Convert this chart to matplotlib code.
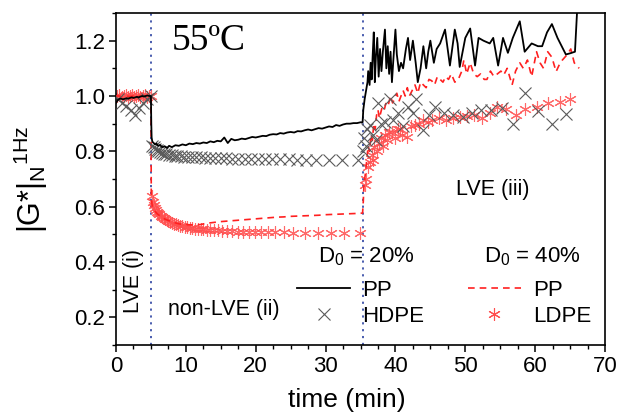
import matplotlib
matplotlib.use("Agg")
import matplotlib.pyplot as plt
from matplotlib.lines import Line2D

plt.rcParams['font.family'] = ['Liberation Sans', 'DejaVu Sans']
plt.rcParams['mathtext.fontset'] = 'custom'
plt.rcParams['mathtext.rm'] = 'Liberation Sans'
plt.rcParams['mathtext.it'] = 'Liberation Sans'
plt.rcParams['mathtext.bf'] = 'Liberation Sans:bold'

# ---------------- data ----------------
# PP, D0 = 20 %  (black solid line)
pp20_t = [0, 0.25, 0.5, 0.75, 1.0, 1.25, 1.5, 1.75, 2.0, 2.25, 2.5, 2.75, 3.0, 3.25, 3.5, 3.75, 4.0, 4.25, 4.5, 4.75, 5.0,
          5.05, 5.1, 5.2, 5.4, 5.6, 5.8, 6.0, 6.3, 6.6, 7.0, 7.3, 7.6, 8.0, 8.5, 9.0, 9.5, 10.0, 10.5, 11.0, 11.5, 12.0,
          12.5, 13.0, 13.5, 14.0, 14.5, 15.0, 15.5, 16.0, 16.5, 17.0, 17.5, 18.0, 18.5, 19.0, 19.5, 20.0, 20.5, 21.0,
          21.5, 22.0, 22.5, 23.0, 23.5, 24.0, 24.5, 25.0, 25.5, 26.0, 26.5, 27.0, 27.5, 28.0, 28.5, 29.0, 29.5, 30.0,
          30.5, 31.0, 31.5, 32.0, 32.5, 33.0, 33.5, 34.0, 34.5, 35.0, 35.3,
          35.4, 35.6, 35.8, 36.0, 36.1, 36.3, 36.45, 36.6, 36.75, 36.9, 37.05, 37.2, 37.4, 37.6, 37.8, 38.0, 38.2, 38.5,
          38.7, 38.9, 39.1, 39.3, 39.5, 39.7, 40.0, 40.2, 40.5, 40.8, 41.1, 41.5, 41.8, 42.1, 42.5, 42.9, 43.2, 43.6,
          44.0, 44.4, 44.7, 45.0, 45.5, 45.9, 46.4, 47.1, 47.8, 48.5, 48.9, 49.2, 50.0, 50.7, 51.4, 51.9, 52.6, 53.5,
          54.0, 54.7, 55.4, 56.1, 56.8, 57.8, 58.5, 59.5, 60.4, 61.0, 61.7, 62.4, 63.2, 63.6, 64.4, 65.1, 65.7, 66.2]
pp20_v = [0.975, 0.985, 0.99, 0.99, 0.988, 0.99, 0.992, 0.99, 0.993, 0.995, 0.993, 0.995, 0.997, 0.995, 0.998, 1.0, 0.998,
          1.0, 1.002, 1.0, 1.0,
          0.90, 0.85, 0.835, 0.83, 0.825, 0.828, 0.82, 0.823, 0.815, 0.818, 0.812, 0.82, 0.815, 0.822, 0.82, 0.825,
          0.822, 0.828, 0.826, 0.83, 0.828, 0.832, 0.83, 0.836, 0.833, 0.838, 0.836, 0.85, 0.83, 0.845, 0.84, 0.842,
          0.846, 0.844, 0.848, 0.852, 0.85, 0.853, 0.856, 0.855, 0.86, 0.862, 0.861, 0.866, 0.864, 0.868, 0.87, 0.868,
          0.873, 0.872, 0.876, 0.879, 0.876, 0.88, 0.884, 0.882, 0.886, 0.89, 0.888, 0.895, 0.892, 0.897, 0.90, 0.90,
          0.902, 0.902, 0.905, 0.905,
          0.95, 0.99, 1.02, 1.05, 1.09, 1.04, 1.12, 1.06, 1.15, 1.23, 1.05, 1.14, 1.21, 1.07, 1.17, 1.09, 1.16, 1.24,
          1.10, 1.18, 1.08, 1.16, 1.05, 1.13, 1.24, 1.15, 1.09, 1.12, 1.10, 1.17, 1.21, 1.13, 1.20, 1.12, 1.05, 1.10,
          1.18, 1.10, 1.16, 1.20, 1.12, 1.17, 1.19, 1.24, 1.11, 1.24, 1.19, 1.105, 1.21, 1.244, 1.11, 1.21, 1.20, 1.19,
          1.21, 1.11, 1.21, 1.156, 1.21, 1.27, 1.16, 1.19, 1.18, 1.18, 1.23, 1.26, 1.21, 1.19, 1.15, 1.155, 1.16, 1.40]

# HDPE, D0 = 20 %  (grey crosses)
hdpe_t = [0.3, 0.9, 1.5, 2.1, 2.7, 3.3, 3.9, 4.5, 5.0,
          5.2, 5.4, 5.6, 5.8, 6.0, 6.3, 6.6, 6.9, 7.2, 7.6, 8.0, 8.4, 8.8, 9.3, 9.8, 10.3, 10.9, 11.5, 12.1, 12.8,
          13.5, 14.2, 15.0, 15.8, 16.6, 17.5, 18.4, 19.3, 20.3, 21.3, 22.4, 23.5, 24.7, 25.9, 27.2, 28.6, 30.5,
          32.4, 34.7,
          35.3, 35.5, 35.8, 36.0, 36.4, 36.8, 37.2, 37.5, 37.9, 38.5, 39.2, 39.7, 40.3, 41.1, 41.8, 42.5, 43.0,
          44.0, 44.8, 45.7, 46.9, 48.3, 49.7, 51.0, 52.3, 53.7, 55.2, 56.8, 58.5, 60.4, 62.4, 64.4]
hdpe_v = [0.99, 0.975, 0.965, 0.95, 0.93, 0.955, 0.975, 0.99, 1.0,
          0.82, 0.815, 0.81, 0.805, 0.80, 0.797, 0.795, 0.79, 0.79, 0.787, 0.785, 0.784, 0.783, 0.782, 0.78, 0.78,
          0.779, 0.779, 0.778, 0.777, 0.776, 0.776, 0.775, 0.775, 0.774, 0.774, 0.773, 0.773, 0.773, 0.772, 0.772,
          0.771, 0.771, 0.77, 0.77, 0.77, 0.77, 0.769, 0.768,
          0.80, 0.85, 0.82, 0.88, 0.895, 0.86, 0.84, 0.975, 0.90, 0.907, 0.99, 0.913, 0.94, 0.89, 0.96, 0.94, 0.99,
          0.878, 0.93, 0.96, 0.94, 0.93, 0.925, 0.94, 0.95, 0.95, 0.955, 0.90, 1.01, 0.945, 0.90, 0.935]

# PP, D0 = 40 %  (red dashed line)
pp40_t = [0, 0.5, 1.0, 1.5, 2.0, 2.5, 3.0, 3.5, 4.0, 4.5, 5.0,
          5.05, 5.2, 5.5, 6.0, 7.0, 8.0, 9.0, 10.0, 11.0, 12.0, 13.0, 14.0, 15.0, 16.0, 17.0, 18.0, 19.0, 20.0,
          21.0, 22.0, 23.0, 24.0, 25.0, 26.0, 27.0, 28.0, 29.0, 30.0, 31.0, 32.0, 33.0, 34.0, 35.0, 35.3,
          35.4, 35.5, 35.7, 35.9, 36.1, 36.3, 36.5, 36.7, 36.9, 37.1, 37.3, 37.5, 37.7, 37.9, 38.1, 38.4, 38.7,
          39.0, 39.3, 39.6, 39.9, 40.2, 40.5, 40.8, 41.1, 41.4, 41.7, 42.0, 42.4, 42.8, 43.2, 43.6, 44.0, 44.4,
          44.8, 45.2, 45.6, 46.0, 46.4, 46.8, 47.2, 47.6, 48.0, 48.5, 49.0, 49.5, 49.8, 50.2, 50.7, 51.2, 51.7,
          52.2, 52.7, 53.1, 53.6, 54.1, 54.6, 55.1, 55.5, 56.0, 56.7, 57.2, 57.8, 58.3, 58.9, 59.5, 60.2, 60.7,
          61.2, 61.8, 62.4, 63.0, 63.4, 63.9, 64.6, 65.1, 65.6, 66.3]
pp40_v = [1.0, 1.0, 0.995, 1.0, 0.998, 1.0, 1.002, 0.998, 1.0, 1.0, 1.0,
          0.63, 0.60, 0.585, 0.572, 0.555, 0.545, 0.538, 0.535, 0.534, 0.535, 0.54, 0.543, 0.546, 0.548, 0.55,
          0.552, 0.554, 0.556, 0.558, 0.56, 0.562, 0.563, 0.565, 0.566, 0.567, 0.568, 0.569, 0.571, 0.572, 0.573,
          0.574, 0.575, 0.576, 0.577,
          0.62, 0.68, 0.72, 0.77, 0.82, 0.80, 0.86, 0.84, 0.90, 0.88, 0.93, 0.95, 0.92, 0.94, 0.96, 0.95, 0.98,
          0.97, 1.00, 0.975, 0.99, 1.01, 0.98, 1.00, 1.02, 1.00, 1.03, 1.00, 1.02, 1.04, 1.01, 1.05, 1.04, 1.03,
          1.06, 1.055, 1.04, 1.07, 1.06, 1.05, 1.07, 1.06, 1.08, 1.05, 1.06, 1.09, 1.13, 1.08, 1.12, 1.08, 1.07,
          1.08, 1.06, 1.06, 1.09, 1.07, 1.08, 1.09, 1.076, 1.10, 1.04, 1.09, 1.12, 1.10, 1.13, 1.07, 1.16, 1.12,
          1.10, 1.16, 1.14, 1.088, 1.11, 1.13, 1.15, 1.17, 1.12, 1.10]

# LDPE, D0 = 40 %  (red asterisks)
ldpe_t = [0.2, 0.5, 0.8, 1.1, 1.4, 1.7, 2.0, 2.3, 2.6, 2.9, 3.2, 3.5, 3.8, 4.1, 4.4, 4.7, 5.0,
          5.1, 5.25, 5.4, 5.55, 5.7, 5.85, 6.0, 6.2, 6.4, 6.6, 6.8, 7.0, 7.25, 7.5, 7.75, 8.0, 8.3, 8.6, 8.9, 9.2,
          9.5, 9.85, 10.2, 10.55, 10.9, 11.3, 11.7, 12.1, 12.5, 13.0, 13.5, 14.0, 14.6, 15.2, 15.9, 16.6, 17.4,
          18.2, 19.0, 19.9, 20.8, 21.8, 22.8, 24.0, 25.4, 27.0, 28.9, 30.8, 32.7, 34.9,
          35.6, 35.8, 36.1, 36.3, 36.6, 36.8, 37.0, 37.3, 37.6, 37.9, 38.2, 38.5, 38.8, 39.1, 39.5, 39.9, 40.3,
          40.6, 41.0, 41.6, 42.2, 42.8, 43.4, 44.0, 44.6, 45.3, 46.3, 47.2, 48.2, 49.2, 50.2, 51.3, 52.4, 53.6,
          54.6, 55.8, 57.2, 58.6, 60.2, 61.8, 63.5, 65.0]
ldpe_v = [1.0, 1.005, 0.995, 1.0, 1.005, 0.998, 1.0, 1.003, 0.997, 1.0, 1.005, 0.998, 1.0, 1.003, 0.998, 1.0, 1.0,
          0.64, 0.616, 0.605, 0.595, 0.588, 0.582, 0.578, 0.572, 0.568, 0.563, 0.559, 0.556, 0.552, 0.548, 0.545,
          0.542, 0.539, 0.536, 0.533, 0.531, 0.529, 0.527, 0.525, 0.523, 0.522, 0.521, 0.52, 0.519, 0.518, 0.517,
          0.516, 0.515, 0.514, 0.513, 0.512, 0.511, 0.51, 0.51, 0.509, 0.509, 0.508, 0.508, 0.507, 0.507, 0.506,
          0.506, 0.505, 0.505, 0.505, 0.505,
          0.68, 0.70, 0.745, 0.76, 0.787, 0.77, 0.817, 0.80, 0.83, 0.85, 0.82, 0.86, 0.84, 0.87, 0.871, 0.85, 0.88,
          0.88, 0.86, 0.853, 0.89, 0.895, 0.90, 0.913, 0.905, 0.915, 0.92, 0.915, 0.92, 0.925, 0.928, 0.93, 0.92,
          0.94, 0.96, 0.954, 0.93, 0.954, 0.96, 0.976, 0.98, 0.988]

x_ticks = [0, 10, 20, 30, 40, 50, 60, 70]
y_ticks = [0.2, 0.4, 0.6, 0.8, 1.0, 1.2]
regime_bounds = [5.0, 35.3]

# ---------------- figure ----------------
fig = plt.figure(figsize=(6.2, 4.16), dpi=100)
ax = fig.add_axes([116 / 620, 1 - 345 / 416, 489 / 620, 332 / 416])

for xb in regime_bounds:
    ax.axvline(xb, color='#3a4fa8', ls=(0, (1.2, 2.6)), lw=1.3, zorder=1)

ast = (6, 2, 0)
ax.plot(ldpe_t, ldpe_v, ls='none', marker=ast, ms=9, mew=0.8, color='#ff4f4f', alpha=0.85, zorder=2)
ax.plot(pp40_t, pp40_v, ls=(0, (4, 3)), lw=1.2, color='#ff2020', zorder=3)
ax.plot(hdpe_t, hdpe_v, ls='none', marker='x', ms=8, mew=0.8, color='#5a5a5a', zorder=4)
ax.plot(pp20_t, pp20_v, ls='-', lw=1.3, color='black', zorder=5)

ax.set_xlim(0, 70)
ax.set_ylim(0.1, 1.3)
ax.set_xticks(x_ticks)
ax.set_yticks(y_ticks)
ax.set_xticks([v + 2.5 * k for v in x_ticks[:-1] for k in (1, 2, 3)], minor=True)
ax.set_yticks([0.1, 0.3, 0.5, 0.7, 0.9, 1.1, 1.3], minor=True)
ax.set_yticklabels([f'{v:.1f}' for v in y_ticks])
ax.tick_params(which='major', direction='out', length=5, width=1.1, labelsize=16, pad=3,
               top=False, right=False)
ax.tick_params(which='minor', direction='out', length=3, width=1.0, top=False, right=False)
for s in ax.spines.values():
    s.set_linewidth(1.2)

ax.set_xlabel('time (min)', fontsize=19)
ax.xaxis.set_label_coords(0.472, -0.13)
ax.set_ylabel(r'$\mathregular{|G{*}|_N{}^{1Hz}}$', fontsize=22)
ax.yaxis.set_label_coords(-0.135, 0.5)

ax.text(8.0, 1.2, '55ºC', family='Liberation Serif', fontsize=27, va='center', ha='left')
ax.text(2.45, 0.33, 'LVE (i)', rotation=90, fontsize=15.5, va='center', ha='center')
ax.text(7.4, 0.229, 'non-LVE (ii)', fontsize=15.5, va='center', ha='left')
ax.text(48.7, 0.661, 'LVE (iii)', fontsize=15.5, va='center', ha='left')

ax.text(0.413, 0.265, r'D$_0$ = 20%', transform=ax.transAxes, fontsize=16, va='center', ha='left')
ax.text(0.752, 0.265, r'D$_0$ = 40%', transform=ax.transAxes, fontsize=16, va='center', ha='left')

h1 = [Line2D([], [], color='black', lw=1.3),
      Line2D([], [], ls='none', marker='x', ms=8, mew=0.8, color='#5a5a5a')]
h2 = [Line2D([], [], color='#ff2020', lw=1.2, ls=(0, (4, 3))),
      Line2D([], [], ls='none', marker=ast, ms=9, mew=0.8, color='#ff4f4f')]
leg1 = ax.legend(h1, ['PP', 'HDPE'], loc='upper left', bbox_to_anchor=(0.37, 0.197), frameon=False,
                 fontsize=16, handlelength=2.4, handletextpad=0.55, labelspacing=0.25, borderpad=0,
                 borderaxespad=0)
ax.add_artist(leg1)
ax.legend(h2, ['PP', 'LDPE'], loc='upper left', bbox_to_anchor=(0.719, 0.197), frameon=False,
          fontsize=16, handlelength=2.4, handletextpad=0.55, labelspacing=0.25, borderpad=0,
          borderaxespad=0)

fig.savefig('out.png', dpi=100)
